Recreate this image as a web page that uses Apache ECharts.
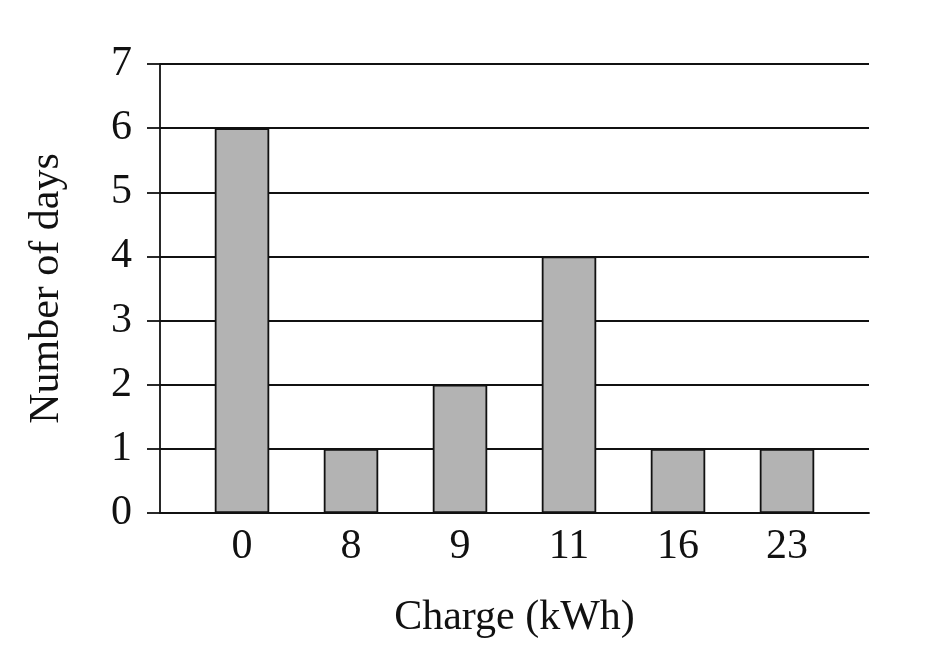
<!DOCTYPE html>
<html>
<head>
<meta charset="utf-8">
<script src="https://cdn.jsdelivr.net/npm/echarts@6/dist/echarts.min.js"></script>
<style>html,body{margin:0;padding:0;background:#fff;}#chart{width:946px;height:662px;}</style>
</head>
<body>
<div id="chart"></div>
<script>
const categories = ['0', '8', '9', '11', '16', '23'];
const days = [6, 1, 2, 4, 1, 1];
const yTicks = [0, 1, 2, 3, 4, 5, 6, 7];

const FONT = 'Liberation Serif';
const chart = echarts.init(document.getElementById('chart'));
chart.setOption({
  animation: false,
  backgroundColor: '#fff',
  grid: [
    { left: 160, right: 77, top: 64, bottom: 149 },
    { left: 187.5, right: 104.5, top: 64, bottom: 149 }
  ],
  xAxis: [
    { gridIndex: 0, type: 'value', min: 0, max: 1,
      axisLine: { show: true, lineStyle: { color: '#111', width: 1.8 } },
      axisTick: { show: false }, axisLabel: { show: false }, splitLine: { show: false } },
    { gridIndex: 1, type: 'category', data: categories,
      axisLine: { show: false }, axisTick: { show: false },
      axisLabel: { margin: 13, color: '#111', fontFamily: FONT, fontSize: 42 },
      name: 'Charge (kWh)', nameLocation: 'middle', nameGap: 84,
      nameTextStyle: { color: '#111', fontFamily: FONT, fontSize: 42 } }
  ],
  yAxis: [
    { gridIndex: 0, type: 'value', min: yTicks[0], max: yTicks[yTicks.length - 1], interval: 1,
      axisLine: { show: true, lineStyle: { color: '#111', width: 1.8 } },
      axisTick: { show: true, length: 13, lineStyle: { color: '#111', width: 1.8 } },
      axisLabel: { margin: 28, color: '#111', fontFamily: FONT, fontSize: 42 },
      splitLine: { show: true, lineStyle: { color: '#111', width: 1.8 } },
      name: 'Number of days', nameLocation: 'middle', nameGap: 92,
      nameTextStyle: { color: '#111', fontFamily: FONT, fontSize: 42 } },
    { gridIndex: 1, type: 'value', min: yTicks[0], max: yTicks[yTicks.length - 1], interval: 1,
      show: false, splitLine: { show: false } }
  ],
  series: [{
    type: 'bar', xAxisIndex: 1, yAxisIndex: 1, data: days, barWidth: '50%',
    itemStyle: { color: '#b3b3b3', borderColor: '#111', borderWidth: 1.8 }
  }]
});
</script>
</body>
</html>
